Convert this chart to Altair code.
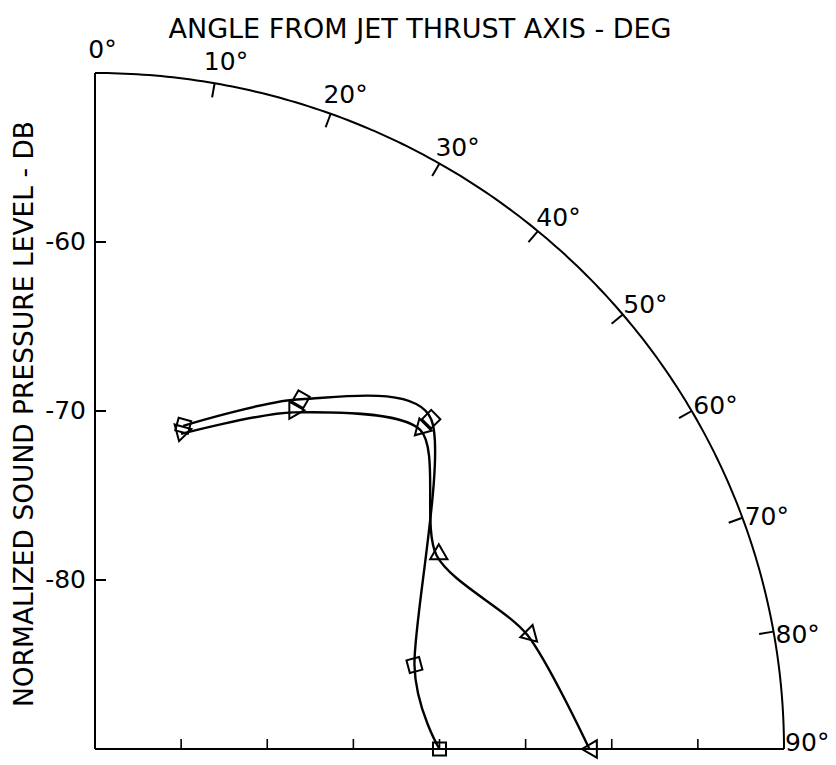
import altair as alt
import pandas as pd

# Directivity measurements: angle from jet thrust axis (deg) vs normalized SPL (dB)
square_angle = [15, 30, 45, 75, 90]
square_spl = [-70.2, -66.1, -62.4, -70.8, -70.0]
triangle_angle = [15, 30, 45, 60, 75, 90]
triangle_spl = [-70.7, -67.0, -63.3, -67.1, -64.0, -61.3]

# Quadrant grid: centre is -90 dB, outer arc is -50 dB
spl_center = -90
spl_outer = -50
radial_labels = [-80, -70, -60]
baseline_ticks = [-85, -80, -75, -70, -65, -60, -55]
arc_ticks = [10, 20, 30, 40, 50, 60, 70, 80]
arc_labels = [0, 10, 20, 30, 40, 50, 60, 70, 80, 90]

title_top = "ANGLE FROM JET THRUST AXIS - DEG"
title_left = "NORMALIZED SOUND PRESSURE LEVEL - DB"

FONT = "DejaVu Sans"
W, H = 689, 676
span = spl_outer - spl_center

xs = alt.Scale(domain=[0, span], nice=False, zero=False)
ys = alt.Scale(domain=[0, span], nice=False, zero=False)


def X(field):
    return alt.X(field, type="quantitative", scale=xs, axis=None)


def Y(field):
    return alt.Y(field, type="quantitative", scale=ys, axis=None)


# ---- measured curves -------------------------------------------------------
meas = pd.DataFrame({
    "angle": square_angle + triangle_angle,
    "spl": square_spl + triangle_spl,
    "series": ["square"] * len(square_angle) + ["triangle"] * len(triangle_angle),
})

polar = alt.Chart(meas).transform_calculate(
    r=f"datum.spl - ({spl_center})"
).transform_calculate(
    px="datum.r * sin(datum.angle * PI / 180)",
    py="datum.r * cos(datum.angle * PI / 180)",
)

curves = polar.mark_line(
    interpolate="cardinal", tension=0.2, color="black", strokeWidth=2.4
).encode(x=X("px"), y=Y("py"), detail="series:N", order="angle:Q")

symbols = polar.mark_point(
    filled=False, color="black", strokeWidth=2, opacity=1
).encode(
    x=X("px"),
    y=Y("py"),
    shape=alt.Shape(
        "series:N",
        scale=alt.Scale(domain=["square", "triangle"], range=["square", "triangle-down"]),
        legend=None,
    ),
    size=alt.Size(
        "series:N",
        scale=alt.Scale(domain=["square", "triangle"], range=[170, 300]),
        legend=None,
    ),
    angle=alt.Angle("angle:Q", scale=None),
)

# ---- quadrant frame ----------------------------------------------------------
arc = alt.Chart(alt.sequence(0, 90.25, 0.5, as_="angle")).transform_calculate(
    px=f"{span} * sin(datum.angle * PI / 180)",
    py=f"{span} * cos(datum.angle * PI / 180)",
).mark_line(color="black", strokeWidth=2).encode(
    x=X("px"), y=Y("py"), order="angle:Q"
)

left_edge = alt.Chart(pd.DataFrame({"a": [0]})).mark_rule(
    color="black", strokeWidth=2
).encode(x=alt.X(datum=0, scale=xs, axis=None), y=alt.Y(datum=0, scale=ys, axis=None),
         y2=alt.Y2(datum=span))

bottom_edge = alt.Chart(pd.DataFrame({"a": [0]})).mark_rule(
    color="black", strokeWidth=2
).encode(y=alt.Y(datum=0, scale=ys, axis=None), x=alt.X(datum=0, scale=xs, axis=None),
         x2=alt.X2(datum=span))

# ticks on the vertical (0 deg) radius, pointing inward
lvl = alt.Chart(pd.DataFrame({"spl": radial_labels})).transform_calculate(
    r=f"datum.spl - ({spl_center})",
    label="'' + datum.spl",
)
left_ticks = lvl.mark_rule(color="black", strokeWidth=2).encode(
    y=Y("r"), x=alt.value(0), x2=alt.value(11)
)
left_labels = lvl.mark_text(
    align="right", baseline="middle", font=FONT, fontSize=25, color="black", dx=-9
).encode(y=Y("r"), x=alt.value(0), text="label:N")

# ticks on the horizontal (90 deg) radius
base = alt.Chart(pd.DataFrame({"spl": baseline_ticks})).transform_calculate(
    r=f"datum.spl - ({spl_center})"
)
bottom_ticks = base.mark_rule(color="black", strokeWidth=1.6).encode(
    x=X("r"), y=alt.value(H), y2=alt.value(H - 10)
)

# ticks on the outer arc
arc_tick_layer = alt.Chart(pd.DataFrame({"angle": arc_ticks})).transform_calculate(
    px=f"{span} * sin(datum.angle * PI / 180)",
    py=f"{span} * cos(datum.angle * PI / 180)",
    qx=f"{span - 0.85} * sin(datum.angle * PI / 180)",
    qy=f"{span - 0.85} * cos(datum.angle * PI / 180)",
).mark_rule(color="black", strokeWidth=2).encode(
    x=X("px"), y=Y("py"), x2="qx:Q", y2="qy:Q"
)

# degree labels just outside the arc (kept above the baseline at 90 deg)
arc_label_layer = alt.Chart(pd.DataFrame({"angle": arc_labels})).transform_calculate(
    t="min(datum.angle + 0.6, 89.5) * PI / 180"
).transform_calculate(
    px=f"{span + 1.35} * sin(datum.t)",
    py=f"{span + 1.35} * cos(datum.t)",
    label="datum.angle + '\u00b0'",
).mark_text(
    align="center", baseline="middle", font=FONT, fontSize=25, color="black"
).encode(x=X("px"), y=Y("py"), text="label:N")

# ---- titles -------------------------------------------------------------------
top_title = alt.Chart(pd.DataFrame({"t": [title_top]})).mark_text(
    align="center", baseline="middle", font=FONT, fontSize=27, color="black"
).encode(text="t:N", x=alt.value(325), y=alt.value(-43))

left_title = alt.Chart(pd.DataFrame({"t": [title_left]})).mark_text(
    align="center", baseline="middle", font=FONT, fontSize=26.5, color="black", angle=270
).encode(text="t:N", x=alt.value(-70), y=alt.value(341))

chart = alt.layer(
    arc, left_edge, bottom_edge, left_ticks, bottom_ticks, arc_tick_layer,
    left_labels, arc_label_layer, top_title, left_title, curves, symbols,
).properties(
    width=W,
    height=H,
    padding={"left": 95, "top": 73, "right": 52, "bottom": 16},
    autosize=alt.AutoSizeParams(type="none"),
    background="white",
).configure_view(stroke=None)

chart.save("out.html", embed_options={"renderer": "svg", "actions": False})
